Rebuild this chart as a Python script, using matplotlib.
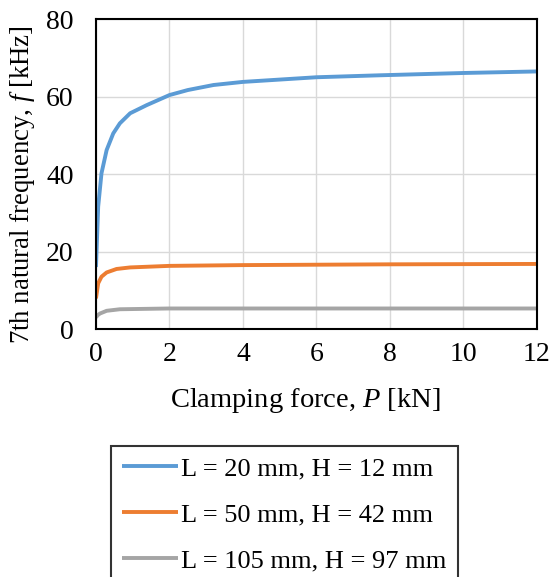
import matplotlib.pyplot as plt

plt.rcParams["font.family"] = ["Liberation Serif", "DejaVu Serif"]
plt.rcParams["mathtext.fontset"] = "custom"
plt.rcParams["mathtext.it"] = "Liberation Serif:italic"
plt.rcParams["mathtext.rm"] = "Liberation Serif"

# clamping force [kN] and 7th natural frequency [kHz]
force_20 = [0, 0.06, 0.15, 0.29, 0.47, 0.65, 0.93, 1.38, 2.0, 2.5, 3.2, 4.0, 5.0, 6.0, 7.7, 10.0, 12.0]
freq_20 = [16.0, 31.6, 40.2, 46.2, 50.5, 53.1, 55.7, 57.8, 60.4, 61.7, 63.0, 63.8, 64.4, 65.0, 65.5, 66.1, 66.5]

force_50 = [0, 0.06, 0.15, 0.29, 0.56, 0.93, 2.0, 4.0, 8.0, 12.0]
freq_50 = [7.9, 11.8, 13.5, 14.6, 15.5, 15.9, 16.3, 16.5, 16.7, 16.8]

force_105 = [0, 0.05, 0.11, 0.29, 0.65, 2.0, 6.0, 12.0]
freq_105 = [3.0, 3.6, 4.0, 4.7, 5.1, 5.3, 5.3, 5.3]

labels = ["L = 20 mm, H = 12 mm", "L = 50 mm, H = 42 mm", "L = 105 mm, H = 97 mm"]
colors = ["#5B9BD5", "#ED7D31", "#A5A5A5"]

fig = plt.figure(figsize=(5.58, 5.77), dpi=100)
ax = fig.add_axes([0.172, 0.4298, 0.79, 0.537])

series = [(force_20, freq_20), (force_50, freq_50), (force_105, freq_105)]
for (x, y), lbl, c in zip(series, labels, colors):
    ax.plot(x, y, color=c, lw=2.8, label=lbl, solid_capstyle="butt")

ax.set_xlim(0, 12)
ax.set_ylim(0, 80)
ax.set_xticks(range(0, 13, 2))
ax.set_yticks(range(0, 81, 20))
ax.grid(color="#D9D9D9", lw=1.0)
ax.set_axisbelow(True)
ax.tick_params(length=0, labelsize=20)
ax.tick_params(axis="x", pad=9)
ax.tick_params(axis="y", pad=16)
for s in ax.spines.values():
    s.set_linewidth(1.5)
    s.set_color("black")

ax.set_xlabel("Clamping force, $\\mathit{P}$ [kN]", fontsize=20.5)
ax.set_ylabel("7th natural frequency, $\\mathit{f}$ [kHz]", fontsize=19.3)
ax.xaxis.set_label_coords(0.474, -0.185)
ax.yaxis.set_label_coords(-0.133, 0.465)

leg = fig.legend(loc="upper left", bbox_to_anchor=(111 / 558, 1 - 446 / 577),
                 fontsize=19, frameon=True, fancybox=False, handlelength=2.1,
                 handletextpad=0.15, borderpad=0.42, labelspacing=0.85,
                 borderaxespad=0)
leg.get_frame().set_edgecolor("black")
leg.get_frame().set_linewidth(1.5)

fig.savefig("out.png", dpi=100)
